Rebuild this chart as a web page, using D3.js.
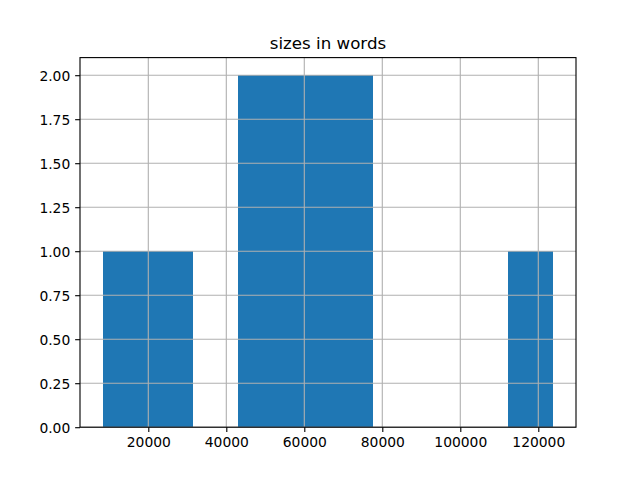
<!DOCTYPE html>
<html><head><meta charset="utf-8">
<script src="https://cdn.jsdelivr.net/npm/d3@7/dist/d3.min.js"></script>
<style>body{margin:0;background:#fff}svg{display:block}</style>
</head><body>
<script>
const title = "sizes in words";
const binEdges = [8268, 19830, 31392, 42954, 54516, 66078, 77640, 89202, 100764, 112326, 123888];
const counts = [1, 1, 0, 2, 2, 2, 0, 0, 0, 1];
const xTicks = [20000, 40000, 60000, 80000, 100000, 120000];
const yTicks = [0, 0.25, 0.5, 0.75, 1.0, 1.25, 1.5, 1.75, 2.0];

const W = 640, H = 480;
const L = 80, R = 576, T = 57.6, B = 427.2;
const font = "DejaVu Sans, sans-serif";
const fs = 13.89;

const svg = d3.select("body").append("svg").attr("width", W).attr("height", H);
svg.append("rect").attr("width", W).attr("height", H).attr("fill", "#fff");

const xmin = binEdges[0], xmax = binEdges[binEdges.length - 1];
const pad = (xmax - xmin) * 0.05;
const x = d3.scaleLinear().domain([xmin - pad, xmax + pad]).range([L, R]);
const ymaxC = d3.max(counts);
const y = d3.scaleLinear().domain([0, ymaxC * 1.05]).range([B, T]);

const bins = counts.map((c, i) => ({x0: binEdges[i], x1: binEdges[i + 1], c}));

// bars
svg.append("g").selectAll("rect").data(bins.filter(d => d.c > 0)).join("rect")
  .attr("x", d => x(d.x0))
  .attr("width", d => x(d.x1) - x(d.x0))
  .attr("y", d => y(d.c))
  .attr("height", d => y(0) - y(d.c))
  .attr("fill", "#1f77b4")
  .attr("shape-rendering", "crispEdges");

// grid
const grid = svg.append("g").attr("stroke", "#b0b0b0").attr("stroke-width", 1.11);
grid.selectAll("line.gx").data(xTicks).join("line")
  .attr("x1", d => x(d)).attr("x2", d => x(d)).attr("y1", T).attr("y2", B);
grid.selectAll("line.gy").data(yTicks).join("line")
  .attr("y1", d => y(d)).attr("y2", d => y(d)).attr("x1", L).attr("x2", R);

// axes
const xAxis = d3.axisBottom(x).tickValues(xTicks).tickFormat(d3.format("d")).tickSize(4.86).tickPadding(3.5);
const yAxis = d3.axisLeft(y).tickValues(yTicks).tickFormat(d3.format(".2f")).tickSize(4.86).tickPadding(4.86);

const gx = svg.append("g").attr("transform", `translate(0,${B})`).call(xAxis);
const gy = svg.append("g").attr("transform", `translate(${L},0)`).call(yAxis);
[gx, gy].forEach(g => {
  g.select(".domain").remove();
  g.selectAll(".tick line").attr("stroke", "#000").attr("stroke-width", 1.11);
  g.selectAll(".tick text").attr("font-family", font).attr("font-size", fs).attr("fill", "#000");
});
gx.selectAll(".tick text").attr("dy", null).attr("y", 4.86 + 4.86).attr("dominant-baseline", "hanging");
gy.selectAll(".tick text").attr("dy", "0.36em");

// spines
svg.append("rect").attr("x", L).attr("y", T).attr("width", R - L).attr("height", B - T)
  .attr("fill", "none").attr("stroke", "#000").attr("stroke-width", 1.11);

// title
svg.append("text").attr("x", (L + R) / 2).attr("y", T - 8.33)
  .attr("text-anchor", "middle").attr("font-family", font).attr("font-size", 16.67)
  .attr("fill", "#000").text(title);
</script>
</body></html>
